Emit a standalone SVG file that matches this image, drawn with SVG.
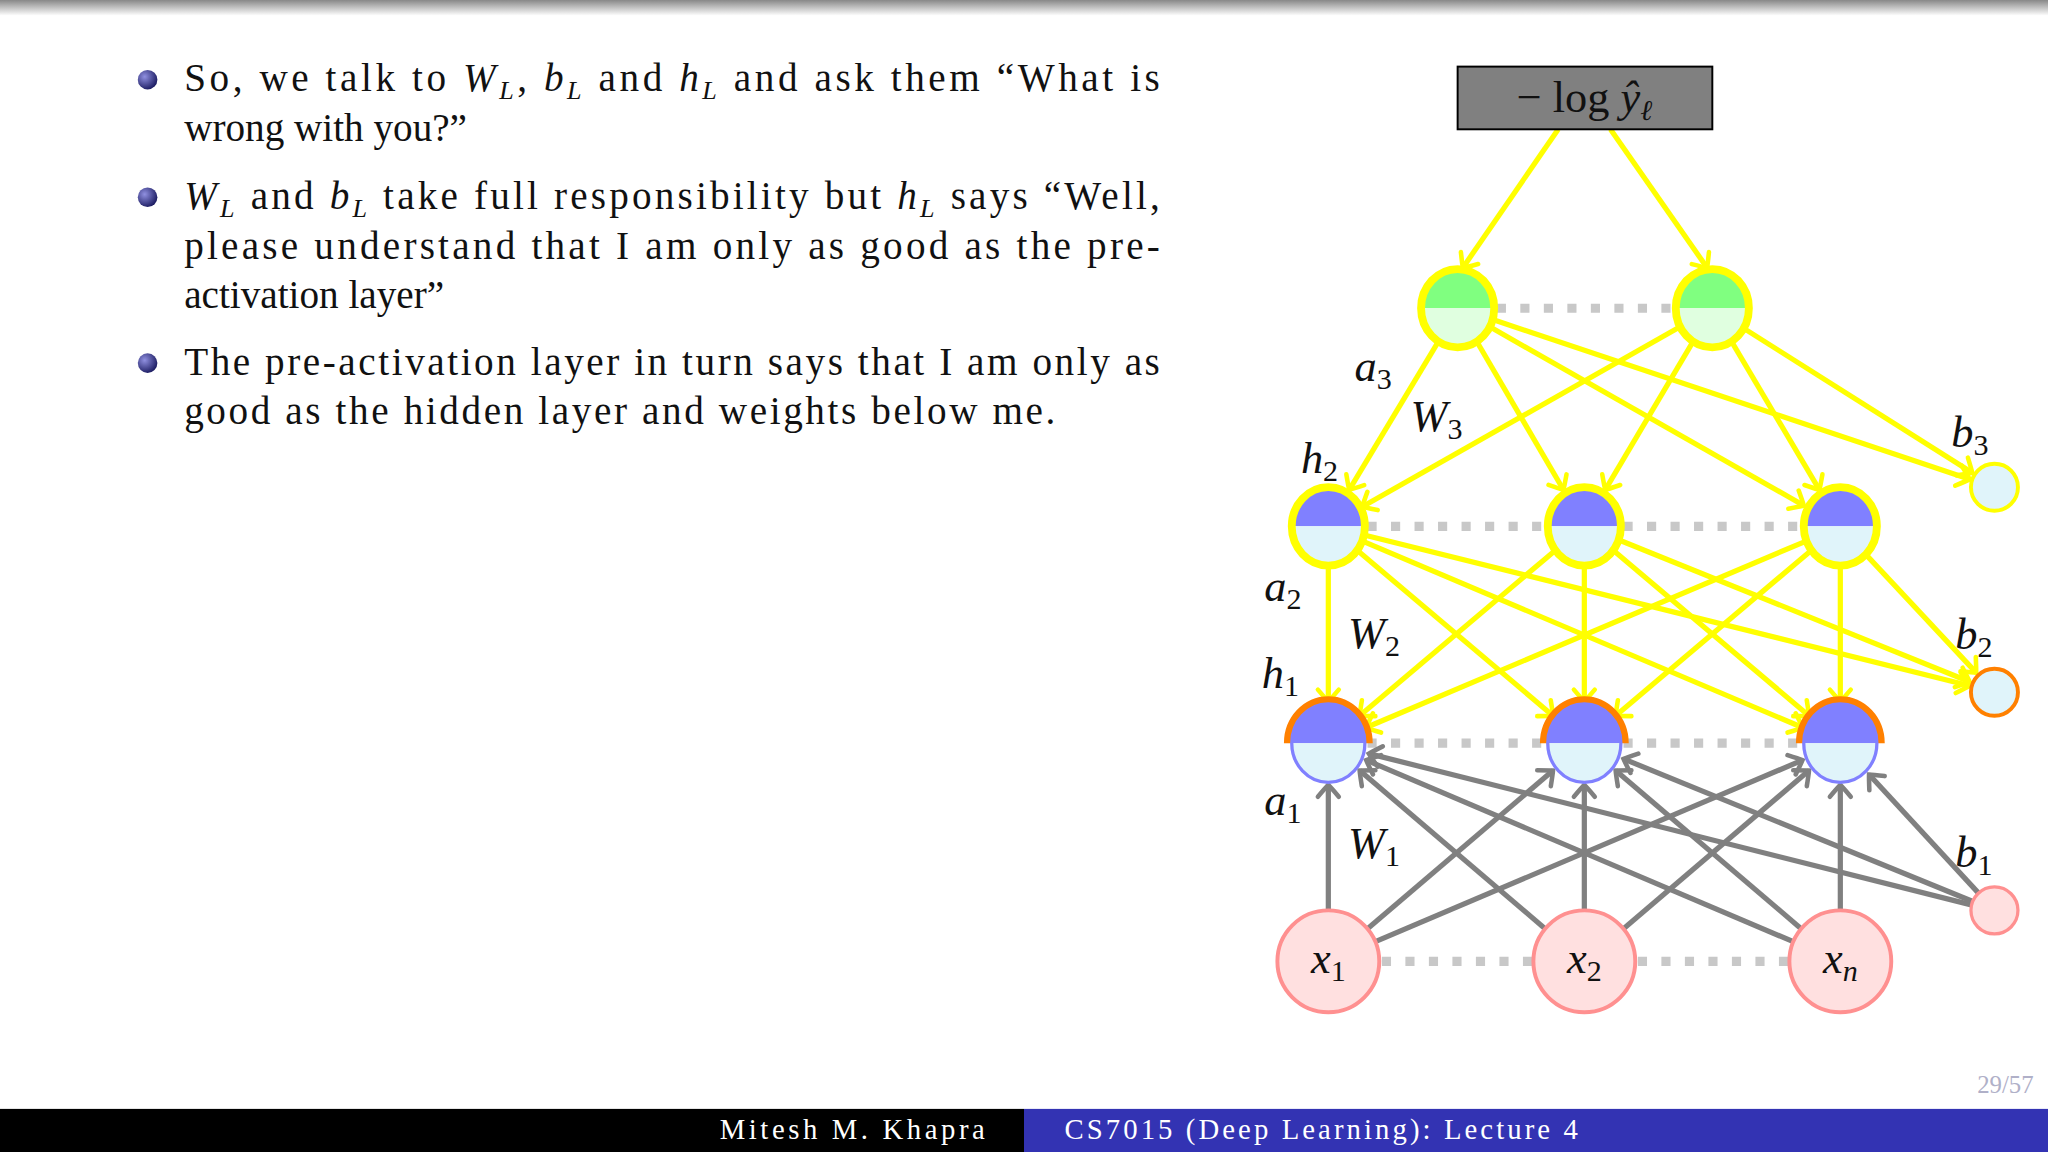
<svg xmlns="http://www.w3.org/2000/svg" xmlns:xlink="http://www.w3.org/1999/xlink" width="2048" height="1152" viewBox="0 0 2048 1152">
<style>
.body{font-family:"Liberation Serif",serif;font-size:30px;fill:#111}
.m{font-style:italic}
.sub{font-size:20px}
.lbl{font-family:"Liberation Serif",serif;font-style:italic;font-size:34px;fill:#111}
.y{stroke:#ffff00;stroke-width:4;fill:none}
.g{stroke:#808080;stroke-width:4;fill:none}
.dot{stroke:#c8c8c8;stroke-width:7;stroke-dasharray:7 11;fill:none}
.foot{font-family:"Liberation Serif",serif;font-size:22px;fill:#fff}
</style>
<defs>
<linearGradient id="top" x1="0" y1="0" x2="0" y2="1"><stop offset="0" stop-color="#888"/><stop offset="1" stop-color="#fff"/></linearGradient>
<radialGradient id="ball" cx="0.35" cy="0.35" r="0.7"><stop offset="0" stop-color="#9090e0"/><stop offset="1" stop-color="#1a1a60"/></radialGradient>
<marker id="ay" viewBox="-12 -10 16 20" markerWidth="16" markerHeight="20" refX="0" refY="0" orient="auto" markerUnits="userSpaceOnUse" overflow="visible"><path d="M-9,-8 Q-2,-2 0,0 Q-2,2 -9,8" fill="none" stroke="#ffff00" stroke-width="3.5" stroke-linecap="round"/></marker>
<marker id="ag" viewBox="-12 -10 16 20" markerWidth="16" markerHeight="20" refX="0" refY="0" orient="auto" markerUnits="userSpaceOnUse" overflow="visible"><path d="M-9,-8 Q-2,-2 0,0 Q-2,2 -9,8" fill="none" stroke="#808080" stroke-width="3.5" stroke-linecap="round"/></marker>
<g id="onode"><path d="M-28,0 A28,30 0 0 1 28,0 Z" fill="#80ff80"/><path d="M-28,0 A28,30 0 0 0 28,0 Z" fill="#e0ffe0"/><ellipse rx="28" ry="30" fill="none" stroke="#ffff00" stroke-width="6"/></g>
<g id="h2node"><path d="M-28,0 A28,30 0 0 1 28,0 Z" fill="#8080ff"/><path d="M-28,0 A28,30 0 0 0 28,0 Z" fill="#e0f4fa"/><ellipse rx="28" ry="30" fill="none" stroke="#ffff00" stroke-width="6"/></g>
<g id="h1node"><path d="M-31,0 A31,33 0 0 1 31,0" fill="none" stroke="#ff8000" stroke-width="6"/><path d="M-28,0 A28,30 0 0 1 28,0 Z" fill="#8080ff"/><path d="M-28,0 A28,30 0 0 0 28,0 Z" fill="#e0f4fa"/><ellipse rx="28" ry="30" fill="none" stroke="#8080ff" stroke-width="2.5"/></g>
</defs>
<rect width="2048" height="1152" fill="#fff"/>
<g transform="scale(1.30612)">
<rect x="0" y="0" width="1568" height="12" fill="url(#top)"/>
<g id="text">
<circle cx="113" cy="61" r="7.5" fill="url(#ball)"/>
<circle cx="113" cy="151" r="7.5" fill="url(#ball)"/>
<circle cx="113" cy="278" r="7.5" fill="url(#ball)"/>
<text class="body" x="141" y="70" textLength="747" lengthAdjust="spacing">So, we talk to <tspan class="m">W</tspan><tspan class="m sub" dy="6">L</tspan><tspan dy="-6">, </tspan><tspan class="m">b</tspan><tspan class="m sub" dy="6">L</tspan><tspan dy="-6"> and </tspan><tspan class="m">h</tspan><tspan class="m sub" dy="6">L</tspan><tspan dy="-6"> and ask them “What is</tspan></text>
<text class="body" x="141" y="108">wrong with you?”</text>
<text class="body" x="141" y="160" textLength="747" lengthAdjust="spacing"><tspan class="m">W</tspan><tspan class="m sub" dy="6">L</tspan><tspan dy="-6"> and </tspan><tspan class="m">b</tspan><tspan class="m sub" dy="6">L</tspan><tspan dy="-6"> take full responsibility but </tspan><tspan class="m">h</tspan><tspan class="m sub" dy="6">L</tspan><tspan dy="-6"> says “Well,</tspan></text>
<text class="body" x="141" y="198" textLength="747" lengthAdjust="spacing">please understand that I am only as good as the pre-</text>
<text class="body" x="141" y="236">activation layer”</text>
<text class="body" x="141" y="287" textLength="747" lengthAdjust="spacing">The pre-activation layer in turn says that I am only as</text>
<text class="body" x="141" y="325" textLength="667" lengthAdjust="spacing">good as the hidden layer and weights below me.</text>
</g>
<g id="connectors">
<path class="dot" d="M1146,236 H1283 M1047,403 H1185 M1243,403 H1381 M1047,569 H1185 M1243,569 H1381 M1058,736 H1174 M1254,736 H1370"/>
<g marker-end="url(#ay)">
<path class="y" d="M1193,99 L1120,205"/>
<path class="y" d="M1233,99 L1307,205"/>
<path class="y" d="M1101,262 L1033,375"/>
<path class="y" d="M1131,262 L1197,375"/>
<path class="y" d="M1142,251 L1381,387"/>
<path class="y" d="M1144,245 L1508,367"/>
<path class="y" d="M1285,251 L1043,388"/>
<path class="y" d="M1296,262 L1229,375"/>
<path class="y" d="M1326,262 L1393,375"/>
<path class="y" d="M1336,252 L1510,362"/>
<path class="y" d="M1017,433 L1017,537"/>
<path class="y" d="M1213,433 L1213,537"/>
<path class="y" d="M1409,433 L1409,537"/>
<path class="y" d="M1040,422 L1189,548"/>
<path class="y" d="M1045,415 L1380,557"/>
<path class="y" d="M1046,410 L1508,525"/>
<path class="y" d="M1190,422 L1041,548"/>
<path class="y" d="M1236,422 L1385,548"/>
<path class="y" d="M1241,414 L1508,522"/>
<path class="y" d="M1381,415 L1046,557"/>
<path class="y" d="M1386,422 L1237,548"/>
<path class="y" d="M1429,425 L1513,515"/>
</g>
<g marker-end="url(#ag)">
<path class="g" d="M1017,697 L1017,601"/>
<path class="g" d="M1047,711 L1189,590"/>
<path class="g" d="M1053,721 L1380,582"/>
<path class="g" d="M1183,711 L1041,590"/>
<path class="g" d="M1213,697 L1213,601"/>
<path class="g" d="M1243,711 L1385,590"/>
<path class="g" d="M1373,721 L1046,582"/>
<path class="g" d="M1379,711 L1237,590"/>
<path class="g" d="M1409,697 L1409,601"/>
<path class="g" d="M1510,693 L1048,577"/>
<path class="g" d="M1510,690 L1243,581"/>
<path class="g" d="M1515,684 L1431,593"/>
</g>
</g>
<g id="loss"><rect x="1116" y="51" width="195" height="48" fill="#808080" stroke="#000" stroke-width="1.5"/><text x="1213" y="86" text-anchor="middle" style="font-family:'Liberation Serif',serif;font-size:34px;fill:#111">− log <tspan font-style="italic">ŷ</tspan><tspan font-style="italic" font-size="22" dy="6">ℓ</tspan></text></g>
<g id="o1"><use xlink:href="#onode" x="1116" y="236"/></g>
<g id="o2"><use xlink:href="#onode" x="1311" y="236"/></g>
<g id="h2a"><use xlink:href="#h2node" x="1017" y="403"/></g>
<g id="h2b"><use xlink:href="#h2node" x="1213" y="403"/></g>
<g id="h2c"><use xlink:href="#h2node" x="1409" y="403"/></g>
<g id="h1a"><use xlink:href="#h1node" x="1017" y="569"/></g>
<g id="h1b"><use xlink:href="#h1node" x="1213" y="569"/></g>
<g id="h1c"><use xlink:href="#h1node" x="1409" y="569"/></g>
<g id="b3"><circle cx="1527" cy="373" r="18" fill="#e0f4fa" stroke="#ffff00" stroke-width="3"/></g>
<g id="b2"><circle cx="1527" cy="530" r="18" fill="#e0f4fa" stroke="#ff8000" stroke-width="3"/></g>
<g id="b1"><circle cx="1527" cy="697" r="18" fill="#ffe0e0" stroke="#ff9090" stroke-width="2.5"/></g>
<g id="x1"><circle cx="1017" cy="736" r="39" fill="#ffe0e0" stroke="#ff9090" stroke-width="3"/><text class="lbl" x="1017" y="745" text-anchor="middle">x<tspan font-style="normal" font-size="23" dy="6">1</tspan></text></g>
<g id="x2"><circle cx="1213" cy="736" r="39" fill="#ffe0e0" stroke="#ff9090" stroke-width="3"/><text class="lbl" x="1213" y="745" text-anchor="middle">x<tspan font-style="normal" font-size="23" dy="6">2</tspan></text></g>
<g id="xn"><circle cx="1409" cy="736" r="39" fill="#ffe0e0" stroke="#ff9090" stroke-width="3"/><text class="lbl" x="1409" y="745" text-anchor="middle">x<tspan font-size="23" dy="6">n</tspan></text></g>
<g id="labels">
<text class="lbl" x="1037" y="292">a<tspan font-style="normal" font-size="23" dy="6">3</tspan></text>
<text class="lbl" x="1080" y="330">W<tspan font-style="normal" font-size="23" dy="6">3</tspan></text>
<text class="lbl" x="996" y="362">h<tspan font-style="normal" font-size="23" dy="6">2</tspan></text>
<text class="lbl" x="1494" y="342">b<tspan font-style="normal" font-size="23" dy="6">3</tspan></text>
<text class="lbl" x="968" y="460">a<tspan font-style="normal" font-size="23" dy="6">2</tspan></text>
<text class="lbl" x="1032" y="496">W<tspan font-style="normal" font-size="23" dy="6">2</tspan></text>
<text class="lbl" x="966" y="527">h<tspan font-style="normal" font-size="23" dy="6">1</tspan></text>
<text class="lbl" x="1497" y="497">b<tspan font-style="normal" font-size="23" dy="6">2</tspan></text>
<text class="lbl" x="968" y="624">a<tspan font-style="normal" font-size="23" dy="6">1</tspan></text>
<text class="lbl" x="1032" y="657">W<tspan font-style="normal" font-size="23" dy="6">1</tspan></text>
<text class="lbl" x="1497" y="664">b<tspan font-style="normal" font-size="23" dy="6">1</tspan></text>
</g>
<text x="1557" y="837" text-anchor="end" style="font-family:'Liberation Serif',serif;font-size:19px;fill:#b0b0c8">29/57</text>
<g id="footer">
<rect x="0" y="849" width="784" height="33" fill="#000"/>
<rect x="784" y="849" width="784" height="33" fill="#3333b3"/>
<text class="foot" x="551" y="872" textLength="203" lengthAdjust="spacing">Mitesh M. Khapra</text>
<text class="foot" x="815" y="872" textLength="393" lengthAdjust="spacing">CS7015 (Deep Learning): Lecture 4</text>
</g>
</g>
</svg>
